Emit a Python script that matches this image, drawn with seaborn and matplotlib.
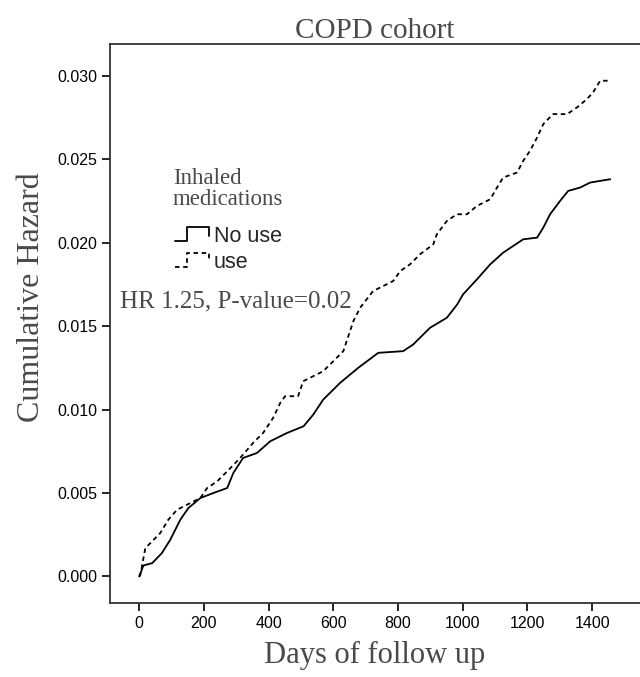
import matplotlib
matplotlib.use("Agg")
import matplotlib.pyplot as plt
import pandas as pd
import seaborn as sns
from matplotlib.legend_handler import HandlerLine2D
from matplotlib.lines import Line2D

# cumulative hazard (day, value)
no_use_days = [0, 13, 40, 70, 96, 127, 152, 189, 229, 272, 291, 321, 364, 405,
               457, 508, 538, 569, 621, 677, 739, 816, 847, 899, 951, 983,
               1001, 1044, 1085, 1125, 1187, 1230, 1249, 1270, 1301, 1326,
               1363, 1394, 1456]
no_use_haz = [0.0, 0.00066, 0.0008, 0.0014, 0.0022, 0.0034, 0.0041, 0.0047,
              0.0050, 0.0053, 0.0062, 0.0071, 0.0074, 0.0081, 0.0086, 0.0090,
              0.0097, 0.0106, 0.0116, 0.0125, 0.0134, 0.0135, 0.0139, 0.0149,
              0.0155, 0.0163, 0.0169, 0.0178, 0.0187, 0.0194, 0.0202, 0.0203,
              0.0209, 0.0217, 0.0225, 0.0231, 0.0233, 0.0236, 0.0238]

use_days = [0, 3, 19, 65, 90, 117, 148, 189, 210, 241, 272, 312, 352, 383,
            414, 436, 451, 491, 507, 569, 631, 662, 683, 723, 785, 807, 837,
            868, 909, 920, 951, 982, 1013, 1044, 1085, 1106, 1125, 1168, 1187,
            1208, 1230, 1249, 1279, 1323, 1353, 1384, 1403, 1425, 1456]
use_haz = [0.0, 0.00006, 0.0017, 0.0026, 0.0034, 0.0040, 0.0043, 0.0047,
           0.0053, 0.0057, 0.0063, 0.0071, 0.0080, 0.0086, 0.0095, 0.0104,
           0.0108, 0.0108, 0.0117, 0.0123, 0.0135, 0.0153, 0.0161, 0.0171,
           0.0177, 0.0183, 0.0187, 0.0193, 0.0199, 0.0205, 0.0213, 0.0217,
           0.0217, 0.0222, 0.0226, 0.0233, 0.0239, 0.0242, 0.0249, 0.0255,
           0.0263, 0.0271, 0.0277, 0.0277, 0.0281, 0.0286, 0.0290, 0.0297,
           0.0297]

x_ticks = [0, 200, 400, 600, 800, 1000, 1200, 1400]
y_ticks = [0.000, 0.005, 0.010, 0.015, 0.020, 0.025, 0.030]


class StepHandler(HandlerLine2D):
    # little staircase glyph like the SPSS legend
    def create_artists(self, legend, orig_handle, xdescent, ydescent,
                       width, height, fontsize, trans):
        x0, y0 = -xdescent, -ydescent
        xs = [x0, x0 + 0.35 * width, x0 + 0.35 * width, x0 + width, x0 + width]
        ys = [y0 + 0.1 * height, y0 + 0.1 * height, y0 + 0.95 * height,
              y0 + 0.95 * height, y0 + 0.45 * height]
        line = Line2D(xs, ys)
        self.update_prop(line, orig_handle, legend)
        line.set_transform(trans)
        return [line]


sns.set_theme(style="white")
plt.rcParams["font.family"] = ["Liberation Sans", "DejaVu Sans"]
serif = ["Liberation Serif", "DejaVu Serif"]
grey = "#4a4a4a"

fig = plt.figure(figsize=(6.4, 6.77), dpi=100)
ax = fig.add_axes([0.172, 0.109, 0.828, 0.826])

no_use = pd.DataFrame({"day": no_use_days, "haz": no_use_haz})
use = pd.DataFrame({"day": use_days, "haz": use_haz})

sns.lineplot(data=no_use, x="day", y="haz", ax=ax, color="black",
             linewidth=1.3, label="No use")
sns.lineplot(data=use, x="day", y="haz", ax=ax, color="black",
             linewidth=1.3, linestyle=(0, (2.5, 2)), label="use")

ax.set_xlim(-90, 1548)
ax.set_ylim(-0.0016, 0.0319)
ax.set_xticks(x_ticks)
ax.set_yticks(y_ticks)
ax.set_yticklabels([f"{v:.3f}" for v in y_ticks])
ax.tick_params(axis="both", direction="out", length=6, width=1.2,
               labelsize=11.5, colors="black", bottom=True, left=True)

for side in ["left", "bottom", "top"]:
    ax.spines[side].set_color("#333333")
    ax.spines[side].set_linewidth(1.3)
ax.spines["right"].set_visible(False)

ax.set_title("COPD cohort", family=serif, fontsize=21, pad=4, color=grey)
ax.set_xlabel("Days of follow up", family=serif, fontsize=22, labelpad=7,
              color=grey)
ax.set_ylabel("Cumulative Hazard", family=serif, fontsize=23, labelpad=8,
              color=grey, y=0.547)

handles, labels = ax.get_legend_handles_labels()
leg = ax.legend(handles, labels, loc="center", bbox_to_anchor=(0.223, 0.685),
                frameon=False, title="Inhaled\nmedications", fontsize=15.5,
                handlelength=1.6, handleheight=0.8, handletextpad=0.2,
                labelspacing=0.2, borderpad=0,
                handler_map={h: StepHandler() for h in handles})
leg.get_title().set_family(serif)
leg.get_title().set_fontsize(16.5)
leg.get_title().set_color(grey)
leg.get_title().set_linespacing(1.0)
leg._legend_box.align = "center"
leg._legend_box.sep = 12

ax.text(0.019, 0.54, "HR 1.25, P-value=0.02", transform=ax.transAxes,
        family=serif, fontsize=18, color=grey, va="center", ha="left")

fig.savefig("out.png", dpi=100)
